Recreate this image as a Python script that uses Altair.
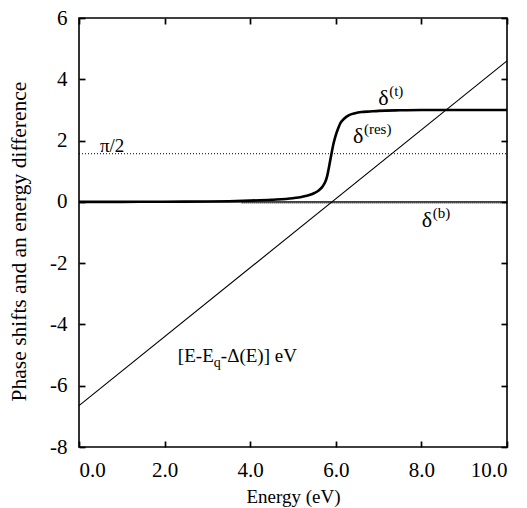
import altair as alt
import pandas as pd

# ---- data ----
energy = [0.0, 1.0, 2.0, 3.0, 3.5, 4.0, 4.5, 5.0, 5.2, 5.4, 5.5, 5.6, 5.7, 5.75,
          5.8, 5.85, 5.9, 5.95, 6.0, 6.05, 6.1, 6.2, 6.3, 6.45, 6.6, 6.8, 7.0,
          7.5, 8.0, 9.0, 10.0]
delta_t = [0.0, 0.0, 0.005, 0.01, 0.02, 0.04, 0.07, 0.12, 0.16, 0.23, 0.29,
           0.37, 0.52, 0.64, 0.85, 1.2, 1.58, 1.92, 2.18, 2.38, 2.55, 2.72,
           2.82, 2.89, 2.93, 2.95, 2.97, 2.99, 3.0, 3.0, 3.0]

diff_E = [0.0, 10.0]
diff_val = [-6.65, 4.6]

db_E = [3.8, 10.0]
db_val = [-0.03, -0.03]

pi_half = 1.5708
x_ticks = [0, 2, 4, 6, 8, 10]
y_ticks = [-8, -6, -4, -2, 0, 2, 4, 6]

delta_x = [6.99, 6.40, 8.01]
delta_y = [3.17, 1.93, -0.82]
delta_sup = ["(t)", "(res)", "(b)"]

pi_x = [0.49]
pi_y = [1.62]
pi_txt = ["π/2"]

eq_x = [2.31]
eq_y = [-5.23]
eq_parts = ["[E-E", "q", "-Δ(E)] eV"]

W, H = 428, 429
FONT = "Liberation Serif, Times New Roman, Times, serif"
X_MIN, X_MAX, Y_MIN, Y_MAX = 0, 10, -8, 6
TK = 6  # inward tick length (px)

xs = alt.Scale(domain=[X_MIN, X_MAX], nice=False, zero=False)
ys = alt.Scale(domain=[Y_MIN, Y_MAX], nice=False, zero=False)

curve_df = pd.DataFrame({"E": energy, "v": delta_t})
diff_df = pd.DataFrame({"E": diff_E, "v": diff_val})
db_df = pd.DataFrame({"E": db_E, "v": db_val})
pi_df = pd.DataFrame({"E": [X_MIN, X_MAX], "v": [pi_half, pi_half]})
zero_df = pd.DataFrame({"E": [X_MIN, X_MAX], "v": [0.0, 0.0]})
dl_df = pd.DataFrame({"E": delta_x, "v": delta_y, "sup": delta_sup})
pi_lab_df = pd.DataFrame({"E": pi_x, "v": pi_y, "t": pi_txt})
eq_df = pd.DataFrame({"E": eq_x, "v": eq_y})

lab_common = dict(labelFont=FONT, labelFontSize=21, labelColor="black",
                  titleFont=FONT, titleFontWeight="normal",
                  titleColor="black", grid=False, domain=False,
                  ticks=True, tickSize=TK, tickWidth=1.7, tickColor="black",
                  offset=-TK)

# axes pulled TK px into the plot so their ticks point inward
main_x = alt.Axis(orient="bottom", values=x_ticks, format=".1f",
                  labelPadding=12, title="Energy (eV)", titleFontSize=19,
                  titlePadding=7, **lab_common)
main_y = alt.Axis(orient="left", values=y_ticks, labelExpr="'' + datum.value",
                  labelPadding=12, title="Phase shifts and an energy difference",
                  titleFontSize=21.5, titlePadding=19, titleY=223, **lab_common)

mirror = dict(labels=False, domain=False, grid=False, ticks=True, tickSize=TK,
              tickWidth=1.7, tickColor="black", title=None, offset=-TK)
top_x = alt.Axis(orient="top", values=x_ticks, **mirror)
right_y = alt.Axis(orient="right", values=y_ticks, **mirror)

noax_x = lambda f: alt.X(f, scale=xs, axis=None)
noax_y = lambda f: alt.Y(f, scale=ys, axis=None)

diff_line = alt.Chart(diff_df).mark_line(color="black", strokeWidth=1.1).encode(
    x=alt.X("E:Q", scale=xs, axis=main_x),
    y=alt.Y("v:Q", scale=ys, axis=main_y),
)

curve = alt.Chart(curve_df).mark_line(color="black", strokeWidth=2.6,
                                       interpolate="monotone").encode(
    x=alt.X("E:Q", scale=xs, axis=top_x),
    y=alt.Y("v:Q", scale=ys, axis=right_y),
)

pi_line = alt.Chart(pi_df).mark_line(color="black", strokeWidth=1,
                                     strokeDash=[1, 2]).encode(
    x=noax_x("E:Q"), y=noax_y("v:Q"))

zero_line = alt.Chart(zero_df).mark_line(color="black", strokeWidth=1.4).encode(
    x=noax_x("E:Q"), y=noax_y("v:Q"))

db_line = alt.Chart(db_df).mark_line(color="black", strokeWidth=1.2,
                                     strokeDash=[1, 1]).encode(
    x=noax_x("E:Q"), y=noax_y("v:Q"))

txt = dict(font=FONT, color="black", align="left", baseline="alphabetic")

delta_main = alt.Chart(dl_df).mark_text(fontSize=22, **txt).encode(
    x=noax_x("E:Q"), y=noax_y("v:Q"), text=alt.value("δ"))
delta_sups = alt.Chart(dl_df).mark_text(fontSize=15, dx=11, dy=-9, **txt).encode(
    x=noax_x("E:Q"), y=noax_y("v:Q"), text="sup:N")
pi_label = alt.Chart(pi_lab_df).mark_text(fontSize=19, **txt).encode(
    x=noax_x("E:Q"), y=noax_y("v:Q"), text="t:N")
eq1 = alt.Chart(eq_df).mark_text(fontSize=19, **txt).encode(
    x=noax_x("E:Q"), y=noax_y("v:Q"), text=alt.value(eq_parts[0]))
eq2 = alt.Chart(eq_df).mark_text(fontSize=14, dx=36, dy=5, **txt).encode(
    x=noax_x("E:Q"), y=noax_y("v:Q"), text=alt.value(eq_parts[1]))
eq3 = alt.Chart(eq_df).mark_text(fontSize=19, dx=43, **txt).encode(
    x=noax_x("E:Q"), y=noax_y("v:Q"), text=alt.value(eq_parts[2]))

chart = alt.layer(
    diff_line, zero_line, db_line, pi_line, curve,
    delta_main, delta_sups, pi_label, eq1, eq2, eq3,
).resolve_axis(x="independent", y="independent").properties(
    width=W, height=H,
    autosize=alt.AutoSizeParams(type="none"),
    padding={"left": 79, "top": 18, "right": 20, "bottom": 61},
    background="white",
).configure_view(stroke="black", strokeWidth=1.6)

chart.save("out.html", embed_options={"renderer": "svg", "actions": False})
